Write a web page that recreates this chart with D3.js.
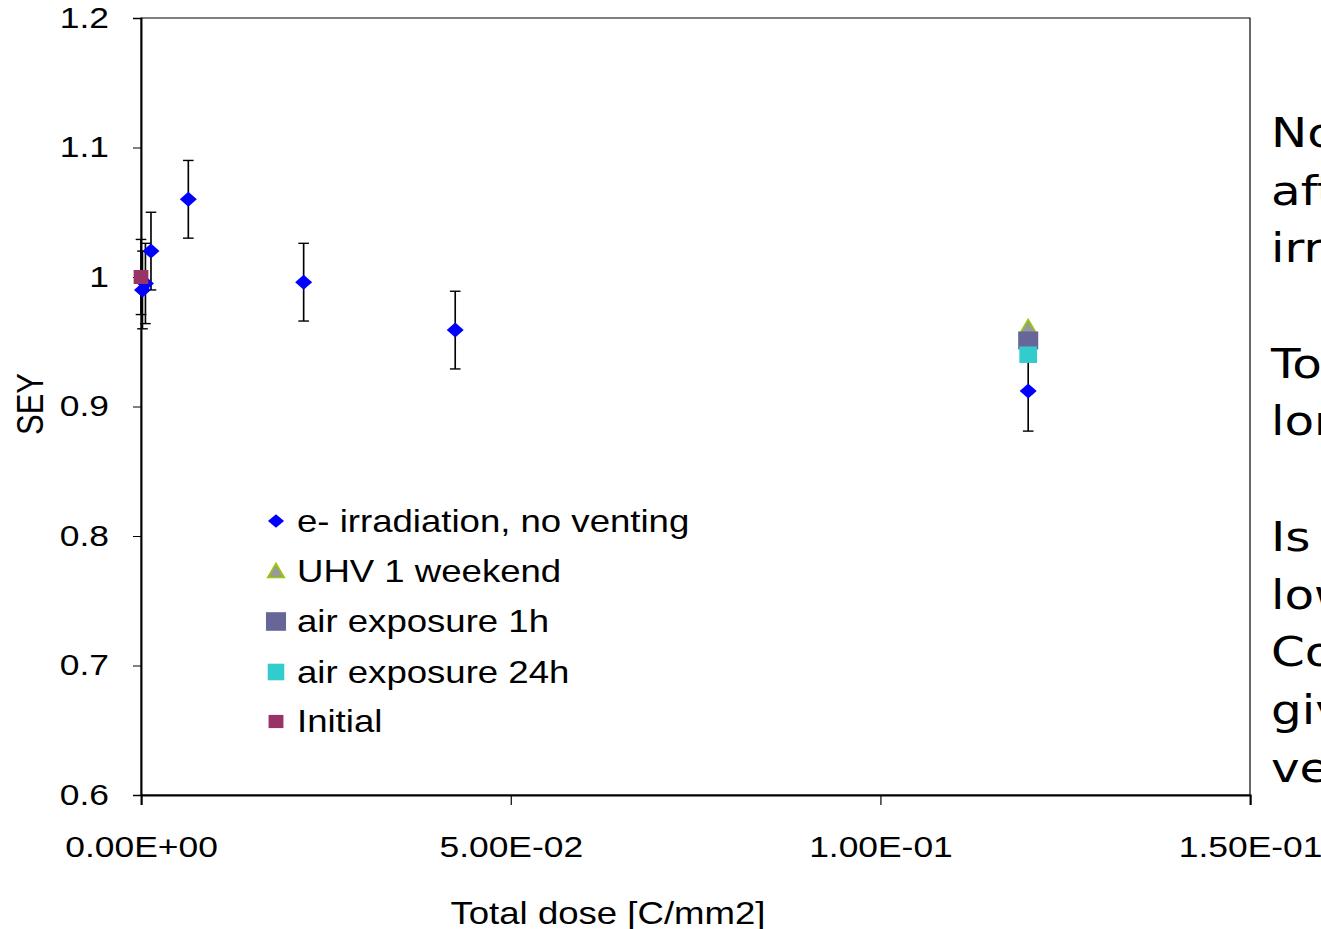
<!DOCTYPE html>
<html>
<head>
<meta charset="utf-8">
<script src="https://cdn.jsdelivr.net/npm/d3@7"></script>
<style>
  html, body { margin: 0; padding: 0; background: #fff; overflow: hidden; }
  svg { display: block; }
</style>
</head>
<body>
<div id="chart"></div>
<script>
// data
const irrDose = [0.0002, 0.0006, 0.00135, 0.0064, 0.022, 0.0425, 0.12];
const irrSEY = [0.99, 0.995, 1.02, 1.06, 0.996, 0.959, 0.912];
const irrErr = [0.03, 0.031, 0.03, 0.03, 0.03, 0.03, 0.031];
const uhvDose = [0.12];
const uhvSEY = [0.961];
const air1Dose = [0.12];
const air1SEY = [0.951];
const air24Dose = [0.12];
const air24SEY = [0.94];
const initDose = [0];
const initSEY = [1.0];
const initErr = [0.029];

const xTicks = [0, 0.05, 0.1, 0.15];
const xTickLabels = ["0.00E+00", "5.00E-02", "1.00E-01", "1.50E-01"];
const yTicks = [0.6, 0.7, 0.8, 0.9, 1.0, 1.1, 1.2];
const yTickLabels = ["0.6", "0.7", "0.8", "0.9", "1", "1.1", "1.2"];

const legendNames = ["e- irradiation, no venting", "UHV 1 weekend", "air exposure 1h", "air exposure 24h", "Initial"];
const noteLines = ["No", "aft", "irr", "", "To", "lon", "", "Is", "low", "Co", "giv", "ve"];

const W = 1321, H = 929;
// the whole picture is a bit wider than it is tall, so draw in squeezed units and stretch
const S = 1.18;
const plotLeft = 141 / S, plotRight = 1250 / S, plotTop = 18, plotBottom = 795;
const font = "'Liberation Sans', Arial, sans-serif";

const svg = d3.select("#chart")
  .append("svg")
  .attr("width", W)
  .attr("height", H)
  .append("g")
  .attr("transform", "scale(" + S + ",1)");

const x = d3.scaleLinear().domain([0, 0.15]).range([plotLeft, plotRight]);
const y = d3.scaleLinear().domain([0.6, 1.2]).range([plotBottom, plotTop]);

// plot frame
svg.append("rect")
  .attr("x", plotLeft).attr("y", plotTop)
  .attr("width", plotRight - plotLeft).attr("height", plotBottom - plotTop)
  .attr("fill", "none").attr("stroke", "#000").attr("stroke-width", 1);

// x axis
const xAxis = svg.append("g")
  .attr("transform", "translate(0," + plotBottom + ")")
  .call(d3.axisBottom(x).tickValues(xTicks).tickSizeOuter(0).tickSize(10)
    .tickFormat((d, i) => xTickLabels[i]));
xAxis.select(".domain").attr("stroke", "#000").attr("stroke-width", 1.8);
xAxis.selectAll(".tick line").attr("stroke", "#000").attr("stroke-width", 1);
xAxis.selectAll("text")
  .attr("y", 62).attr("dy", "0")
  .style("font-family", font).style("font-size", "30px").attr("fill", "#000");

// y axis
const yAxis = svg.append("g")
  .attr("transform", "translate(" + plotLeft + ",0)")
  .call(d3.axisLeft(y).tickValues(yTicks).tickSizeOuter(0).tickSize(8 / S)
    .tickFormat((d, i) => yTickLabels[i]));
yAxis.select(".domain").attr("stroke", "#000").attr("stroke-width", 1.5);
yAxis.selectAll(".tick line").attr("stroke", "#000").attr("stroke-width", 1);
yAxis.selectAll("text")
  .attr("x", -32 / S).attr("dy", "0.3em")
  .style("font-family", font).style("font-size", "30px").attr("fill", "#000");

// axis titles
svg.append("text")
  .attr("x", 608 / S).attr("y", 924)
  .attr("text-anchor", "middle")
  .style("font-family", font).style("font-size", "31px")
  .text("Total dose [C/mm2]");

svg.append("text")
  .attr("transform", "translate(" + (43 / S) + ",404) rotate(-90)")
  .attr("text-anchor", "middle")
  .style("font-family", font).style("font-size", "31px")
  .text("SEY");

// error bars
function errorBars(dose, sey, err) {
  const cap = 4.5;
  const g = svg.append("g").attr("stroke", "#000").attr("stroke-width", 1.4);
  dose.forEach((d, i) => {
    const cx = x(d);
    const y0 = y(sey[i] - err[i]), y1 = y(sey[i] + err[i]);
    g.append("line").attr("x1", cx).attr("x2", cx).attr("y1", y0).attr("y2", y1);
    g.append("line").attr("x1", cx - cap).attr("x2", cx + cap).attr("y1", y0).attr("y2", y0);
    g.append("line").attr("x1", cx - cap).attr("x2", cx + cap).attr("y1", y1).attr("y2", y1);
  });
}

const diamond = "M0,-7.5L7.2,0L0,7.5L-7.2,0Z";
const triangle = "M0,-8L7,6L-7,6Z";

function pathPoints(dose, sey, shape, fill, stroke) {
  svg.append("g").selectAll("path")
    .data(dose)
    .enter()
    .append("path")
    .attr("d", shape)
    .attr("transform", (d, i) => "translate(" + x(d) + "," + y(sey[i]) + ")")
    .attr("fill", fill)
    .attr("stroke", stroke || "none")
    .attr("stroke-width", 1.5);
}

function rectPoints(dose, sey, w, h, fill) {
  svg.append("g").selectAll("rect")
    .data(dose)
    .enter()
    .append("rect")
    .attr("x", d => x(d) - w / 2)
    .attr("y", (d, i) => y(sey[i]) - h / 2)
    .attr("width", w)
    .attr("height", h)
    .attr("fill", fill);
}

errorBars(irrDose, irrSEY, irrErr);
errorBars(initDose, initSEY, initErr);
pathPoints(irrDose, irrSEY, diamond, "#0000ff");
pathPoints(uhvDose, uhvSEY, triangle, "#999999", "#99cc00");
rectPoints(air1Dose, air1SEY, 17, 18, "#666699");
rectPoints(air24Dose, air24SEY, 15, 16.5, "#33cccc");
rectPoints(initDose, initSEY, 12.5, 14, "#993366");

// legend
const legendX = 276 / S, legendTextX = 297 / S;
const legendY = [521, 571, 621.5, 672, 721.5];
const lg = svg.append("g");
lg.append("path").attr("d", diamond)
  .attr("transform", "translate(" + legendX + "," + legendY[0] + ") scale(0.95,0.9)")
  .attr("fill", "#0000ff");
lg.append("path").attr("d", triangle)
  .attr("transform", "translate(" + legendX + "," + (legendY[1] + 0.5) + ")")
  .attr("fill", "#999999").attr("stroke", "#99cc00").attr("stroke-width", 1.5);
lg.append("rect").attr("x", legendX - 8.5).attr("y", legendY[2] - 9.3)
  .attr("width", 17).attr("height", 18.6).attr("fill", "#666699");
lg.append("rect").attr("x", legendX - 7).attr("y", legendY[3] - 8.3)
  .attr("width", 14).attr("height", 16.6).attr("fill", "#33cccc");
lg.append("rect").attr("x", legendX - 6.3).attr("y", legendY[4] - 6.6)
  .attr("width", 12.6).attr("height", 13.2).attr("fill", "#993366");
lg.selectAll("text")
  .data(legendNames)
  .enter()
  .append("text")
  .attr("x", legendTextX)
  .attr("y", (d, i) => legendY[i] + 11)
  .style("font-family", font).style("font-size", "31px")
  .text(d => d);

// slide text next to the chart, running off the edge
svg.append("g").selectAll("text")
  .data(noteLines)
  .enter()
  .append("text")
  .attr("x", 1271 / S)
  .attr("y", (d, i) => 147 + i * 57.7)
  .style("font-family", "'DejaVu Sans', Verdana, sans-serif")
  .style("font-size", "41px")
  .text(d => d);
</script>
</body>
</html>
